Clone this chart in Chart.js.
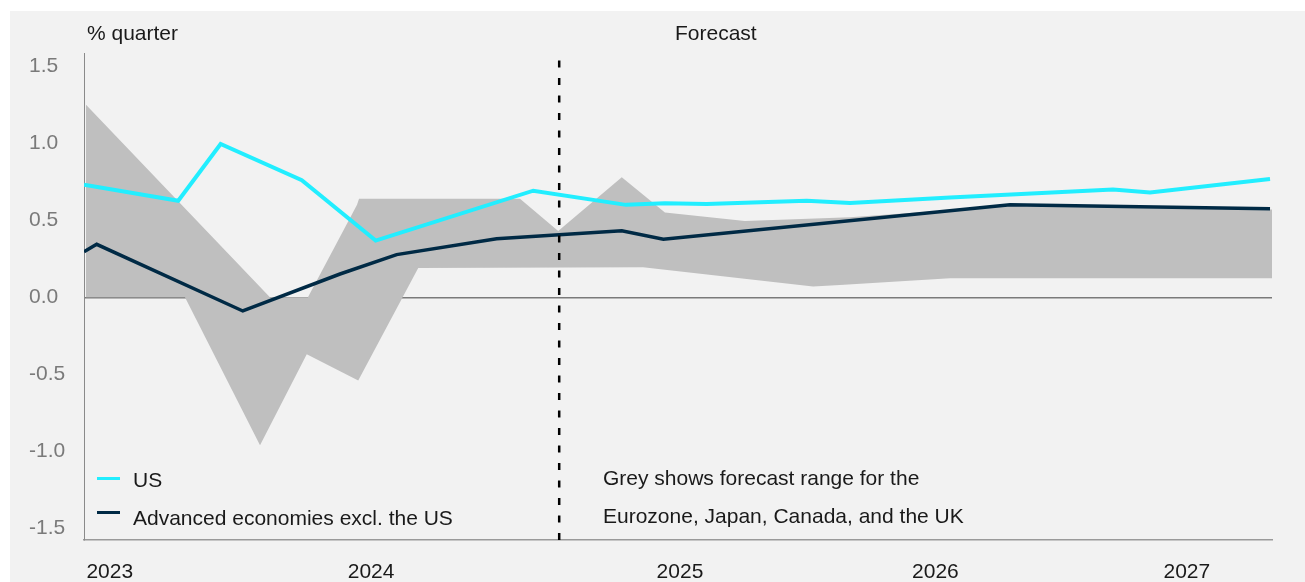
<!DOCTYPE html>
<html>
<head>
<meta charset="utf-8">
<script src="https://cdn.jsdelivr.net/npm/chart.js@4.4.1/dist/chart.umd.min.js"></script>
<style>
  body { margin: 0; background: #fff; font-family: "Liberation Sans", Arial, sans-serif; }
  #panel { position: absolute; left: 10px; top: 11px; width: 1295px; height: 571px; background: #f2f2f2; }
  #wrap { position: absolute; left: 0; top: 0; width: 1305px; height: 582px; }
  .note { position: absolute; font-size: 21px; line-height: 1; color: #1a1a1a; white-space: nowrap; }
  .swatch { position: absolute; left: 97px; width: 23px; height: 3px; }
</style>
</head>
<body>
<div id="panel"></div>
<div id="wrap"><canvas id="gdpChart"></canvas></div>

<div class="note" style="left:87px; top:22px">% quarter</div>
<div class="note" style="left:675px; top:22px">Forecast</div>

<div class="swatch" style="top:477px; background:#22eeff"></div>
<div class="note" style="left:133px; top:469px">US</div>
<div class="swatch" style="top:511px; background:#002a45"></div>
<div class="note" style="left:133px; top:507px">Advanced economies excl. the US</div>

<div class="note" style="left:603px; top:467px">Grey shows forecast range for the</div>
<div class="note" style="left:603px; top:505px">Eurozone, Japan, Canada, and the UK</div>

<script>
// x values are months since Jan 2023
const usX = [0, 4.76, 6.90, 11.0, 14.73, 22.69, 27.37, 29.34, 31.45, 36.5, 38.69, 43.74, 51.97, 53.84, 59.9];
const usY = [0.73, 0.627, 0.995, 0.76, 0.368, 0.692, 0.60, 0.61, 0.606, 0.627, 0.612, 0.647, 0.70, 0.68, 0.768];

const advX = [0, 0.64, 8.02, 12.93, 15.79, 20.84, 27.16, 29.26, 46.77, 59.9];
const advY = [0.296, 0.344, -0.089, 0.151, 0.277, 0.38, 0.432, 0.377, 0.60, 0.575];

// grey range: top and bottom edges
const hiX = [0.1, 9.39, 11.31, 13.79, 13.89, 22.02, 23.95, 27.16, 29.34, 33.38, 38.69, 46.77, 60];
const hiY = [1.25, 0, 0, 0.60, 0.64, 0.64, 0.43, 0.78, 0.55, 0.495, 0.52, 0.595, 0.57];
const loX = [0.1, 5.1, 8.89, 11.25, 13.85, 16.88, 28.23, 36.82, 38.18, 43.74, 60];
const loY = [0, 0, -0.96, -0.37, -0.54, 0.19, 0.195, 0.07, 0.08, 0.123, 0.123];

// forecast divider
const forecastX = [24, 24];
const forecastY = [-1.576, 1.54];

const yTicks = [-1.5, -1.0, -0.5, 0.0, 0.5, 1.0, 1.5];
const yearPos = [1.3, 14.5, 30.1, 43.0, 55.7];
const yearLabels = ["2023", "2024", "2025", "2026", "2027"];

function pts(xs, ys) {
    return xs.map((x, i) => ({ x: x, y: ys[i] }));
}

Chart.defaults.font.family = '"Liberation Sans", Arial, sans-serif';
Chart.defaults.font.size = 21;

const ctx = document.getElementById("gdpChart").getContext("2d");
new Chart(ctx, {
    type: "line",
    data: {
        datasets: [
            {
                label: "US",
                data: pts(usX, usY),
                borderColor: "#22eeff",
                borderWidth: 4,
                order: 1
            },
            {
                label: "Advanced economies excl. the US",
                data: pts(advX, advY),
                borderColor: "#002a45",
                borderWidth: 3.5,
                order: 2
            },
            {
                label: "range high",
                data: pts(hiX, hiY),
                borderWidth: 0,
                borderColor: "rgba(0,0,0,0)",
                backgroundColor: "#bfbfbf",
                fill: "+1",
                order: 4
            },
            {
                label: "range low",
                data: pts(loX, loY),
                borderWidth: 0,
                borderColor: "rgba(0,0,0,0)",
                fill: false,
                order: 3
            },
            {
                label: "forecast",
                data: pts(forecastX, forecastY),
                borderColor: "#000",
                borderWidth: 2.5,
                borderDash: [7, 10.5],
                order: 0
            }
        ]
    },
    options: {
        responsive: true,
        maintainAspectRatio: false,
        animation: false,
        elements: {
            point: { radius: 0 },
            line: { tension: 0, borderJoinStyle: "miter", borderCapStyle: "butt" }
        },
        layout: { padding: { left: 29, right: 33, top: 53, bottom: 0 } },
        scales: {
            x: {
                type: "linear",
                min: 0,
                max: 60,
                afterBuildTicks: scale => {
                    scale.ticks = yearPos.map(v => ({ value: v }));
                },
                afterFit: scale => { scale.height = 42; },
                ticks: {
                    autoSkip: false,
                    maxRotation: 0,
                    padding: 12,
                    color: "#1a1a1a",
                    callback: (value, index) => yearLabels[index]
                },
                grid: { display: false },
                border: { display: true, color: "#9a9a9a", width: 1.5 }
            },
            y: {
                min: -1.576,
                max: 1.586,
                afterBuildTicks: scale => {
                    scale.ticks = yTicks.map(v => ({ value: v }));
                },
                afterFit: scale => { scale.width = 55; },
                ticks: {
                    crossAlign: "far",
                    color: "#7a7a7a",
                    callback: value => value.toFixed(1)
                },
                grid: {
                    drawTicks: false,
                    lineWidth: 1.5,
                    color: c => (c.tick && c.tick.value === 0 ? "#7a7a7a" : "rgba(0,0,0,0)")
                },
                border: { display: true, color: "#8a8a8a", width: 1 }
            }
        },
        plugins: {
            legend: { display: false },
            tooltip: { enabled: false }
        }
    }
});
</script>
</body>
</html>
